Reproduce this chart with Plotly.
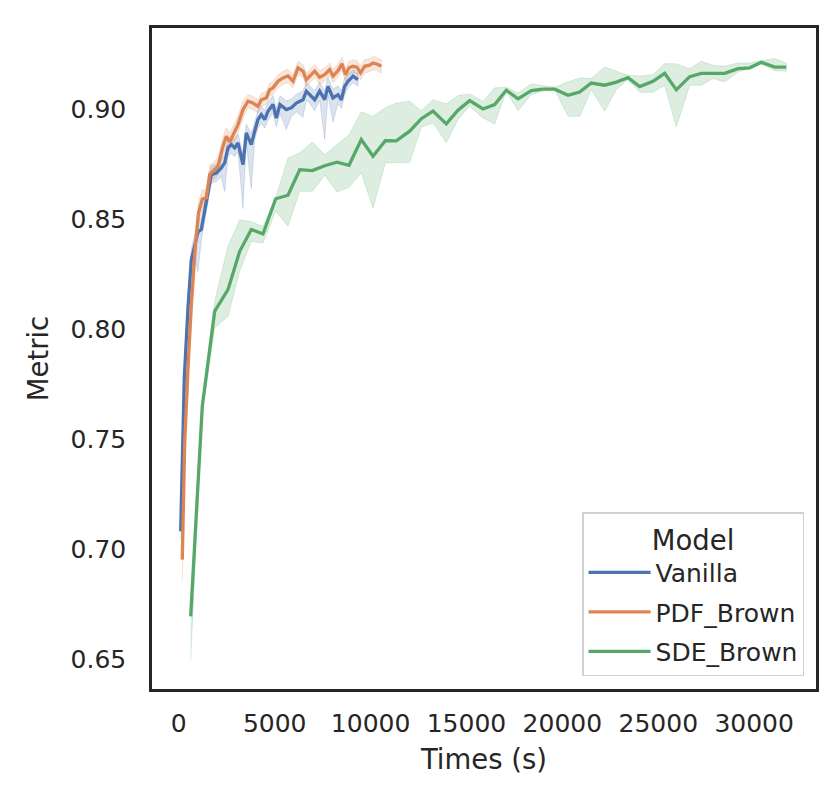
import plotly.graph_objects as go

# ---------------- data ----------------
van_t = [99, 287, 480, 652, 829, 1001, 1173, 1434, 1695, 1955, 2216, 2393, 2565, 2737, 2915,
         3087, 3347, 3519, 3780, 3957, 4129, 4302, 4479, 4651, 4912, 5084, 5277, 5605, 5866,
         6126, 6476, 6648, 6825, 7086, 7347, 7607, 7779, 8040, 8301, 8473, 8650, 8822, 9083, 9343]
van_v = [0.7084, 0.7781, 0.8099, 0.8317, 0.8381, 0.8444, 0.8455, 0.8591, 0.8705, 0.8712,
         0.8735, 0.8758, 0.8826, 0.8841, 0.8826, 0.8849, 0.8750, 0.8894, 0.8841, 0.8902,
         0.8955, 0.8977, 0.8955, 0.8993, 0.9024, 0.8962, 0.9023, 0.9000, 0.9008, 0.9030,
         0.9045, 0.9084, 0.9068, 0.9045, 0.9084, 0.9045, 0.9106, 0.9053, 0.9068, 0.9045,
         0.9106, 0.9129, 0.9152, 0.9136]
van_err_lo = [0.004, 0.006, 0.040, 0.006, 0.005, 0.018, 0.005, 0.005, 0.004, 0.004,
              0.004, 0.013, 0.004, 0.004, 0.004, 0.004, 0.020, 0.004, 0.020, 0.004,
              0.004, 0.004, 0.004, 0.004, 0.004, 0.004, 0.004, 0.009, 0.004, 0.004,
              0.008, 0.004, 0.004, 0.005, 0.004, 0.018, 0.004, 0.011, 0.004, 0.004,
              0.004, 0.003, 0.003, 0.003]
van_err_hi = [0.004, 0.006, 0.006, 0.005, 0.005, 0.005, 0.005, 0.005, 0.004, 0.004,
              0.004, 0.004, 0.004, 0.004, 0.004, 0.004, 0.005, 0.004, 0.005, 0.004,
              0.004, 0.004, 0.004, 0.004, 0.004, 0.004, 0.004, 0.004, 0.004, 0.004,
              0.004, 0.004, 0.004, 0.004, 0.004, 0.004, 0.004, 0.004, 0.004, 0.004,
              0.004, 0.003, 0.003, 0.003]

pdf_t = [182, 308, 480, 652, 871, 1027, 1225, 1434, 1611, 1783, 2044, 2305, 2477, 2654, 2826,
         3087, 3347, 3608, 3869, 4129, 4302, 4562, 4740, 4912, 5172, 5433, 5694, 5954, 6215,
         6476, 6648, 6909, 7086, 7347, 7607, 7868, 8040, 8301, 8509, 8692, 8874, 9083, 9291,
         9474, 9693, 9953, 10126, 10386, 10559]
pdf_v = [0.6955, 0.7485, 0.7826, 0.8108, 0.8390, 0.8530, 0.8594, 0.8599, 0.8705, 0.8720,
         0.8743, 0.8834, 0.8879, 0.8853, 0.8884, 0.8932, 0.9000, 0.9038, 0.9030, 0.9015,
         0.9045, 0.9053, 0.9091, 0.9099, 0.9129, 0.9144, 0.9153, 0.9129, 0.9190, 0.9175,
         0.9136, 0.9159, 0.9175, 0.9147, 0.9159, 0.9182, 0.9152, 0.9177, 0.9208, 0.9159,
         0.9190, 0.9197, 0.9193, 0.9167, 0.9197, 0.9202, 0.9212, 0.9205, 0.9197]
pdf_err = [0.010, 0.008, 0.006, 0.006, 0.005, 0.005, 0.004, 0.004, 0.004, 0.004,
           0.004, 0.004, 0.004, 0.004, 0.004, 0.004, 0.004, 0.003, 0.003, 0.003,
           0.003, 0.003, 0.003, 0.003, 0.003, 0.003, 0.003, 0.003, 0.003, 0.003,
           0.003, 0.003, 0.003, 0.003, 0.003, 0.003, 0.003, 0.003, 0.003, 0.003,
           0.003, 0.003, 0.003, 0.003, 0.003, 0.003, 0.003, 0.003, 0.003]

sde_t = [620, 1225, 1872, 2565, 3175, 3780, 4390, 5052, 5694, 6304,
         6961, 7607, 8249, 8874, 9516, 10126, 10767, 11340, 12039, 12644,
         13254, 13947, 14558, 15168, 15861, 16471, 17076, 17686, 18380, 18989,
         19600, 20293, 20903, 21508, 22206, 22811, 23421, 24031, 24725, 25335,
         25940, 26638, 27243, 27853, 28463, 29157, 29767, 30372, 31071, 31675]
sde_v = [0.6697, 0.7652, 0.8084, 0.8182, 0.8356, 0.8455, 0.8435, 0.8595, 0.8611, 0.8727,
         0.8723, 0.8745, 0.8761, 0.8747, 0.8864, 0.8788, 0.8859, 0.8858, 0.8902, 0.8959,
         0.8993, 0.8935, 0.8997, 0.9041, 0.9003, 0.9023, 0.9088, 0.9049, 0.9086, 0.9093,
         0.9093, 0.9065, 0.9080, 0.9121, 0.9111, 0.9125, 0.9145, 0.9105, 0.9129, 0.9165,
         0.9090, 0.9150, 0.9165, 0.9165, 0.9165, 0.9186, 0.9190, 0.9215, 0.9193, 0.9193]
sde_hi = [0.6750, 0.7680, 0.8129, 0.8379, 0.8500, 0.8490, 0.8470, 0.8599, 0.8780, 0.8803,
          0.8853, 0.8795, 0.8841, 0.8886, 0.8990, 0.8970, 0.9008, 0.9030, 0.9038, 0.8995,
          0.9045, 0.9026, 0.9064, 0.9071, 0.9038, 0.9099, 0.9102, 0.9076, 0.9117, 0.9111,
          0.9102, 0.9126, 0.9144, 0.9141, 0.9194, 0.9175, 0.9156, 0.9153, 0.9159, 0.9209,
          0.9208, 0.9186, 0.9220, 0.9202, 0.9197, 0.9212, 0.9212, 0.9223, 0.9232, 0.9212]
sde_lo = [0.6500, 0.7620, 0.8008, 0.8061, 0.8266, 0.8402, 0.8394, 0.8538, 0.8470, 0.8629,
          0.8629, 0.8702, 0.8626, 0.8647, 0.8712, 0.8553, 0.8758, 0.8761, 0.8761, 0.8920,
          0.8940, 0.8849, 0.8955, 0.9015, 0.8962, 0.8935, 0.9084, 0.8995, 0.9068, 0.9086,
          0.9091, 0.8970, 0.8970, 0.9091, 0.8993, 0.9091, 0.9136, 0.9079, 0.9079, 0.9111,
          0.8921, 0.9111, 0.9111, 0.9141, 0.9126, 0.9171, 0.9186, 0.9208, 0.9177, 0.9175]

x_ticks = [0, 5000, 10000, 15000, 20000, 25000, 30000]
y_ticks = [0.65, 0.70, 0.75, 0.80, 0.85, 0.90]
names = ["Vanilla", "PDF_Brown", "SDE_Brown"]

# ---------------- styling ----------------
colors = ["#4C72B0", "#DD8452", "#55A868"]
TXT = "#262626"
FONT = "DejaVu Sans"


def rgba(hexc, a):
    h = hexc.lstrip("#")
    r, g, b = int(h[0:2], 16), int(h[2:4], 16), int(h[4:6], 16)
    return f"rgba({r},{g},{b},{a})"


van_lo = [v - e for v, e in zip(van_v, van_err_lo)]
van_hi = [v + e for v, e in zip(van_v, van_err_hi)]
pdf_lo = [v - e for v, e in zip(pdf_v, pdf_err)]
pdf_hi = [v + e for v, e in zip(pdf_v, pdf_err)]

series = [
    (names[0], van_t, van_v, van_lo, van_hi, colors[0]),
    (names[1], pdf_t, pdf_v, pdf_lo, pdf_hi, colors[1]),
    (names[2], sde_t, sde_v, sde_lo, sde_hi, colors[2]),
]

fig = go.Figure()
for name, t, v, lo, hi, c in series:
    fig.add_trace(go.Scatter(
        x=list(t) + list(t)[::-1], y=list(hi) + list(lo)[::-1],
        fill="toself", fillcolor=rgba(c, 0.2),
        line=dict(color=rgba(c, 0.2), width=1),
        mode="lines", hoverinfo="skip", showlegend=False,
    ))
for name, t, v, lo, hi, c in series:
    fig.add_trace(go.Scatter(
        x=t, y=v, mode="lines", name=name,
        line=dict(color=c, width=3.3),
        legendgroup=name,
    ))

fig.update_layout(
    width=830, height=793,
    margin=dict(l=144, r=22, t=20, b=112, autoexpand=False),
    paper_bgcolor="white", plot_bgcolor="white",
    font=dict(family=FONT, color=TXT, size=25),
    showlegend=True,
    legend=dict(
        title=dict(text="Model", side="top center", font=dict(size=27.5, color=TXT)),
        x=0.982, xanchor="right", y=0.019, yanchor="bottom",
        bgcolor="rgba(255,255,255,0.8)", bordercolor="#d0d0d0", borderwidth=1.5,
        font=dict(size=25, color=TXT), itemwidth=62, tracegroupgap=4,
    ),
)
fig.update_xaxes(
    range=[-1397, 33224], tickvals=x_ticks, ticktext=[str(v) for v in x_ticks],
    showgrid=False, zeroline=False, showline=True, mirror=True,
    linecolor=TXT, linewidth=2.5, ticks="", ticklabelstandoff=10,
    tickfont=dict(size=25, color=TXT),
    title=dict(text="Times (s)", font=dict(size=27.5, color=TXT), standoff=13),
)
fig.update_yaxes(
    range=[0.6367, 0.9371], tickvals=y_ticks, ticktext=[f"{v:.2f}" for v in y_ticks],
    showgrid=False, zeroline=False, showline=True, mirror=True,
    linecolor=TXT, linewidth=2.5, ticks="", ticklabelstandoff=18,
    tickfont=dict(size=25, color=TXT),
    title=dict(text="Metric", font=dict(size=27.5, color=TXT), standoff=14),
)

fig.write_html("out.html")
